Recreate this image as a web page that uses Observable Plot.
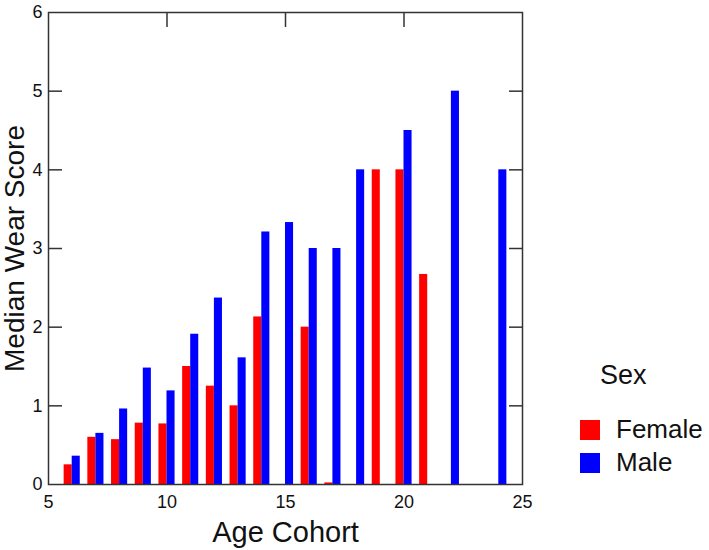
<!DOCTYPE html>
<html>
<head>
<meta charset="utf-8">
<script src="https://cdn.jsdelivr.net/npm/d3@7"></script>
<script src="https://cdn.jsdelivr.net/npm/@observablehq/plot@0.6"></script>
<style>
  html, body { margin: 0; padding: 0; background: #fff; }
  #wrap { position: relative; width: 709px; height: 550px; font-family: "Liberation Sans", Arial, sans-serif; color: #111; }
  #legend { position: absolute; left: 580px; top: 360px; }
  #legend .title { font-size: 27px; margin-left: 20px; line-height: 30px; }
  #legend .row { display: flex; align-items: center; height: 33px; font-size: 26px; }
  #legend .sw { width: 20px; height: 20px; margin-right: 16px; }
</style>
</head>
<body>
<div id="wrap"></div>
<script>
// ---- data ----
const femaleAges   = [6, 7, 8, 9, 10, 11, 12, 13, 14, 16, 17, 19, 20, 21];
const femaleScores = [0.25, 0.6, 0.57, 0.78, 0.77, 1.5, 1.25, 1.0, 2.13, 2.0, 0.02, 4.0, 4.0, 2.67];
const maleAges     = [6, 7, 8, 9, 10, 11, 12, 13, 14, 15, 16, 17, 18, 20, 22, 24];
const maleScores   = [0.36, 0.65, 0.96, 1.48, 1.19, 1.91, 2.37, 1.61, 3.21, 3.33, 3.0, 3.0, 4.0, 4.5, 5.0, 4.0];
const sexes = ["Female", "Male"];
const sexColors = ["#ff0000", "#0000ff"];
const xTicks = [5, 10, 15, 20, 25];
const yTicks = [0, 1, 2, 3, 4, 5, 6];

// ---- build table ----
const rows = [
  ...femaleAges.map((a, i) => ({age: a, score: femaleScores[i], sex: "Female"})),
  ...maleAges.map((a, i) => ({age: a, score: maleScores[i], sex: "Male"}))
];
const barW = 0.34;
const none = () => "";
const fmt = d => String(d);

const chart = Plot.plot({
  width: 709,
  height: 550,
  marginLeft: 48,
  marginRight: 187,
  marginTop: 12,
  marginBottom: 66,
  style: {fontFamily: "'Liberation Sans', Arial, sans-serif", color: "#111", background: "#fff"},
  x: {domain: [5, 25]},
  y: {domain: [0, 6]},
  color: {domain: sexes, range: sexColors},
  marks: [
    Plot.rectY(rows, {
      x1: d => d.sex === "Female" ? d.age - barW : d.age,
      x2: d => d.sex === "Female" ? d.age : d.age + barW,
      y1: 0,
      y2: "score",
      fill: "sex"
    }),
    Plot.frame({stroke: "#333", strokeWidth: 1.5}),
    // tick labels
    Plot.axisX({ticks: xTicks, tickSize: 0, tickPadding: 11, fontSize: 18, tickFormat: fmt, label: null}),
    Plot.axisY({ticks: yTicks, tickSize: 0, tickPadding: 6, fontSize: 18, tickFormat: fmt, label: null}),
    // inward tick marks
    Plot.axisX({anchor: "top", ticks: [10, 15, 20], tickSize: 14, dy: 14, tickFormat: none, label: null, stroke: "#333", strokeWidth: 1.5}),
    Plot.axisY({anchor: "left", ticks: [1, 2, 3, 4, 5], tickSize: -14, tickFormat: none, label: null, stroke: "#333", strokeWidth: 1.5}),
    Plot.axisY({anchor: "right", ticks: [1, 2, 3, 4, 5], tickSize: -14, tickFormat: none, label: null, stroke: "#333", strokeWidth: 1.5}),
    // axis titles
    Plot.axisX({ticks: [], tickSize: 0, tickFormat: none, label: "Age Cohort", labelAnchor: "center", labelArrow: "none", labelOffset: 57, fontSize: 29}),
    Plot.axisY({ticks: [], tickSize: 0, tickFormat: none, label: "Median Wear Score", labelAnchor: "center", labelArrow: "none", labelOffset: 44, fontSize: 28})
  ]
});

const wrap = document.getElementById("wrap");
wrap.appendChild(chart);

// legend
const leg = document.createElement("div");
leg.id = "legend";
const t = document.createElement("div");
t.className = "title";
t.textContent = "Sex";
leg.appendChild(t);
const spacer = document.createElement("div");
spacer.style.height = "23px";
leg.appendChild(spacer);
sexes.forEach((s, i) => {
  const r = document.createElement("div");
  r.className = "row";
  const sw = document.createElement("div");
  sw.className = "sw";
  sw.style.background = sexColors[i];
  r.appendChild(sw);
  const lb = document.createElement("span");
  lb.textContent = s;
  r.appendChild(lb);
  leg.appendChild(r);
});
wrap.appendChild(leg);
</script>
</body>
</html>
